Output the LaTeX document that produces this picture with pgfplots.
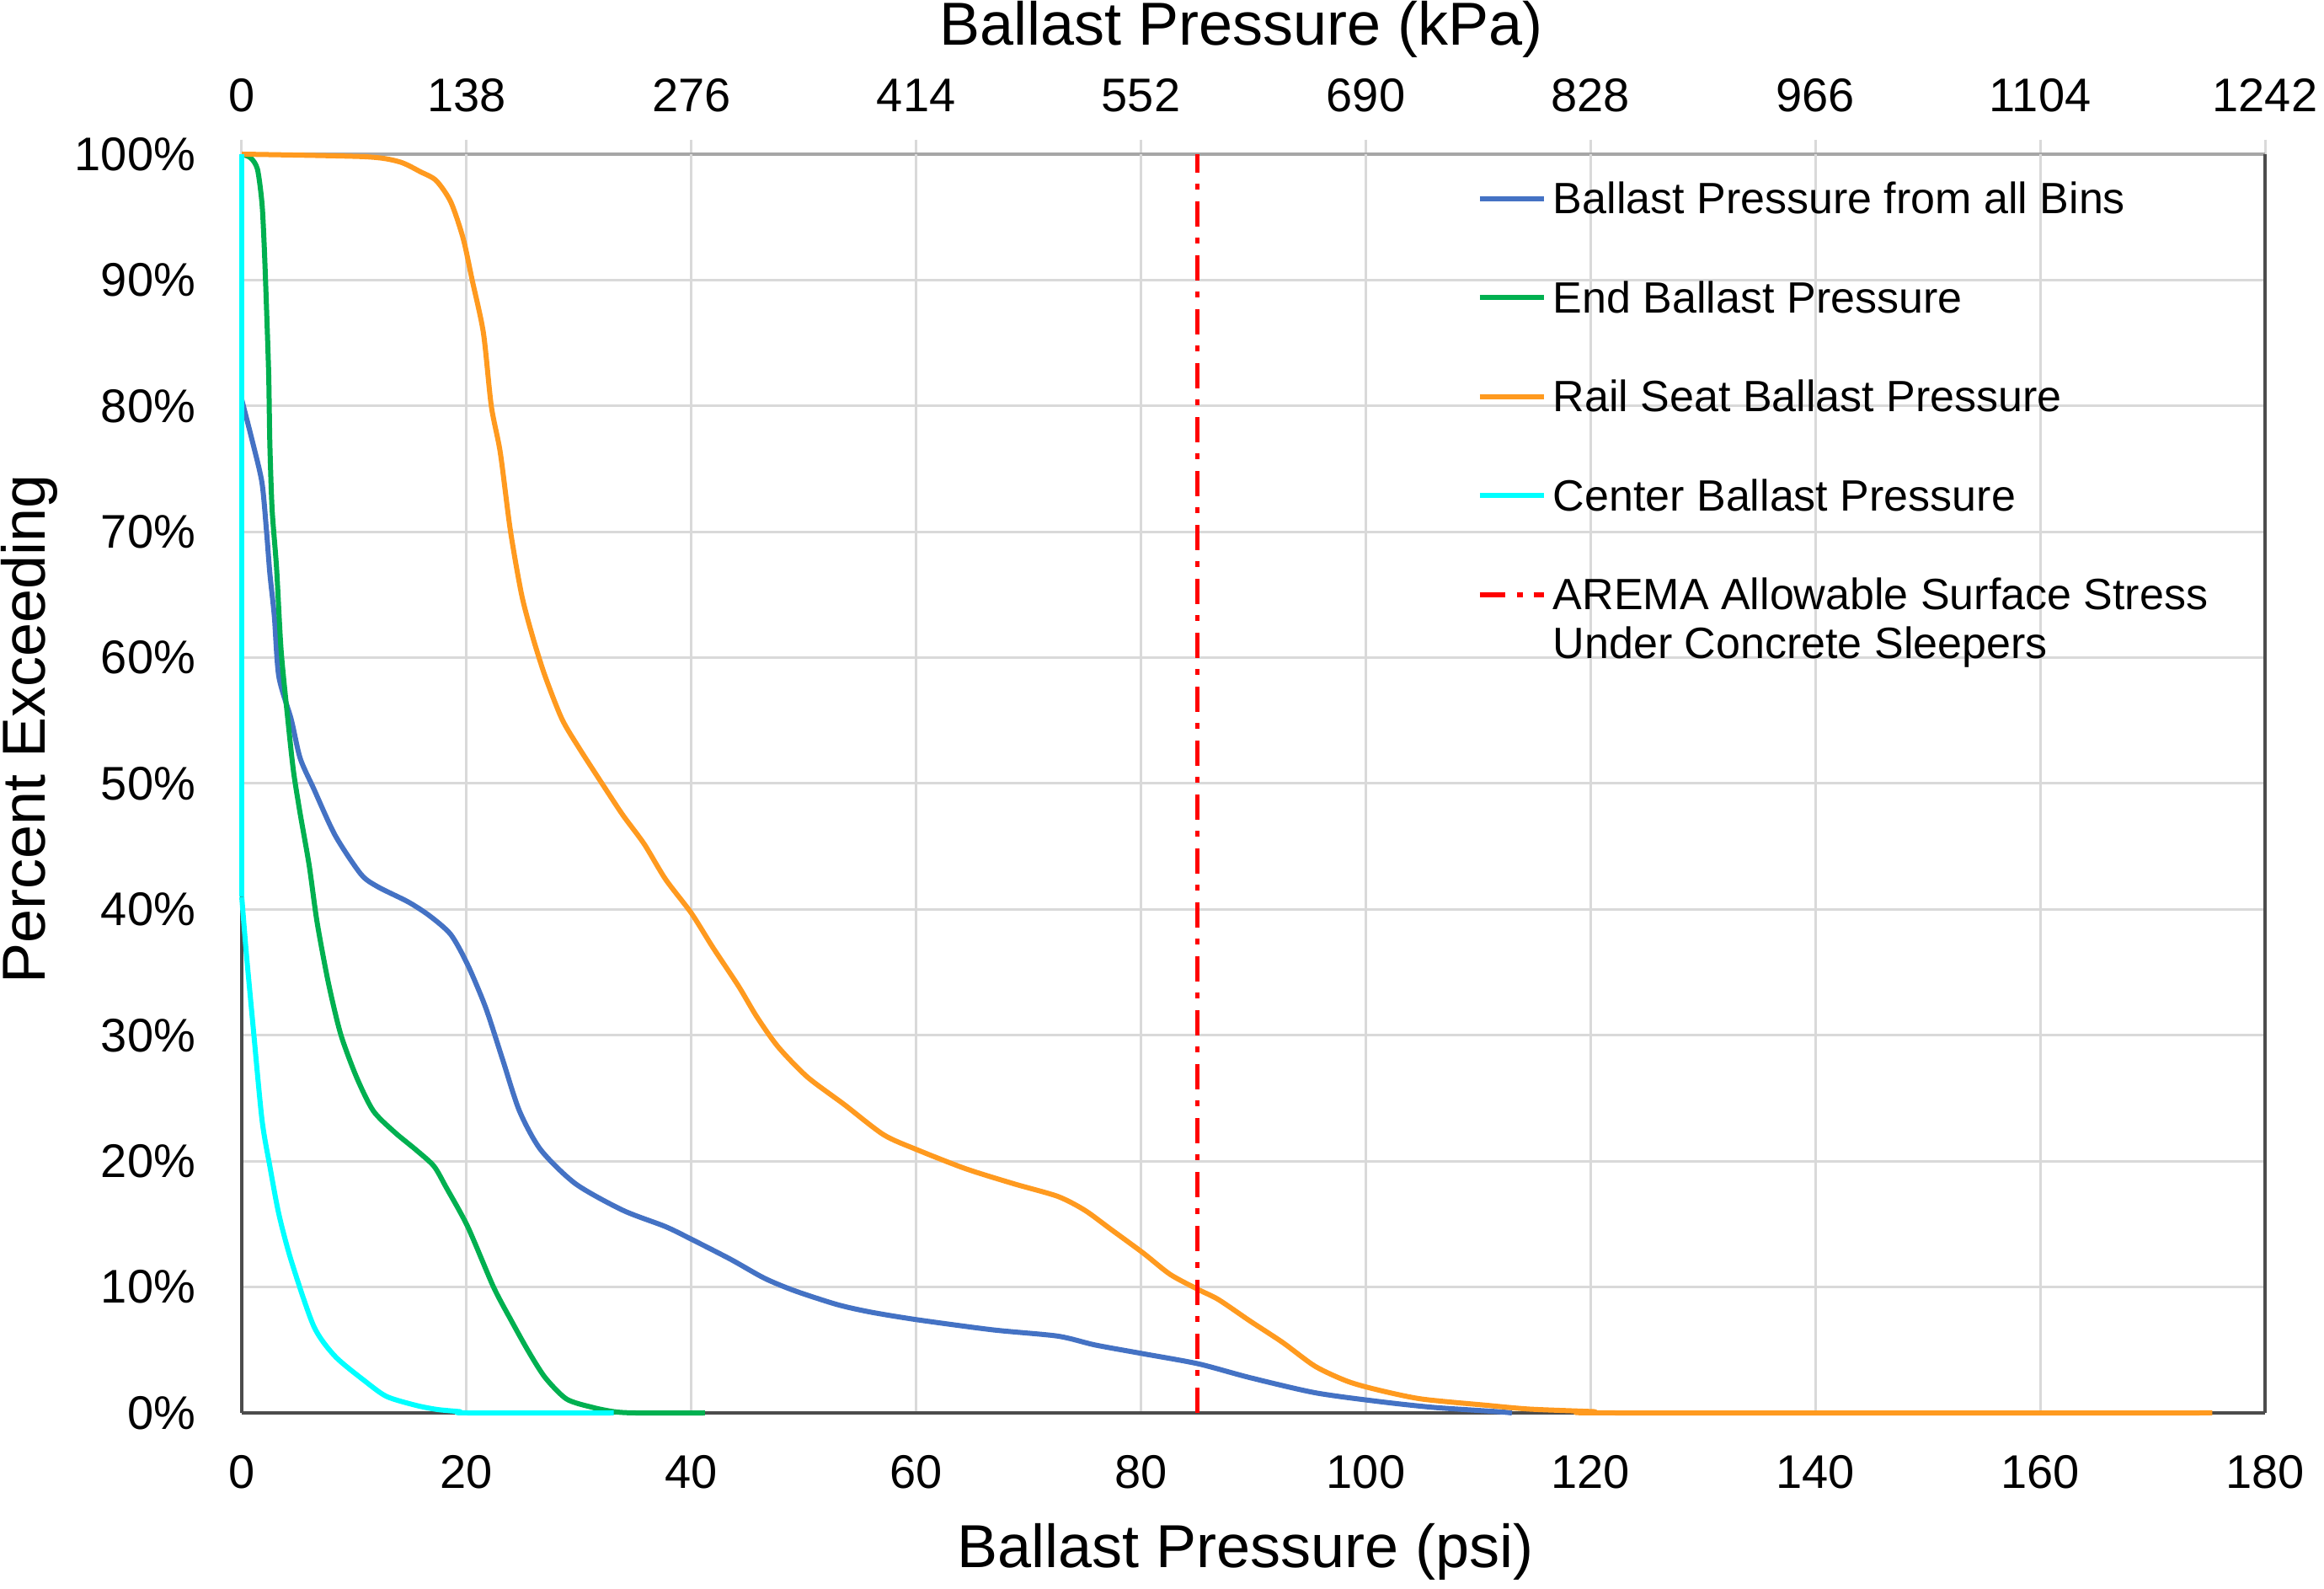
\documentclass[border=0pt]{standalone}
\usepackage{fontspec}
\setmainfont{Liberation Sans}
\usepackage{pgfplots}
\pgfplotsset{compat=1.18}
\definecolor{cblue}{HTML}{4472C4}
\definecolor{cgreen}{HTML}{00B050}
\definecolor{corange}{HTML}{FF9A1F}
\definecolor{ccyan}{HTML}{00FFFF}
\definecolor{cred}{HTML}{FF0000}
\newcommand\ticksfont{\fontsize{11.2}{13}\selectfont}
\newcommand\labfont{\fontsize{14.4}{17}\selectfont}
\newcommand\legfont{\fontsize{10.4}{11.6}\selectfont}
\begin{document}
\begin{tikzpicture}
\path[use as bounding box] (-57.4pt,-41.8pt) rectangle (494.4pt,335.4pt);
% top kPa axis
\begin{axis}[
 at={(0,0)}, anchor=south west,
 width=480.4pt, height=298.8pt, scale only axis,
 xmin=0, xmax=1242, ymin=0, ymax=1,
 axis x line*=top, axis y line=none,
 x axis line style={-, draw=black!35, line width=0.75pt},
 xtick={0,138,276,414,552,690,828,966,1104,1242},
 xticklabels={0,138,276,414,552,690,828,966,1104,1242},
 ytick=\empty,
 tick align=outside, major tick length=3.4pt,
 xtick style={draw=black!15, line width=0.6pt},
 xticklabel style={font=\ticksfont, anchor=south, inner sep=0pt, yshift=6.4pt},
 xlabel={Ballast Pressure (kPa)},
 xlabel style={font=\labfont, at={(axis description cs:0.494,1.0991)}, anchor=center},
]
\addplot[draw=none] coordinates {(0,0.5)};
\end{axis}
% main axis
\begin{axis}[
 at={(0,0)}, anchor=south west,
 width=480.4pt, height=298.8pt, scale only axis,
 xmin=0, xmax=180, ymin=0, ymax=100, clip=false,
 axis x line*=bottom, axis y line*=box,
 axis line style={-, draw=black!70, line width=0.75pt},
 xtick={0,20,40,60,80,100,120,140,160,180},
 xticklabels={0,20,40,60,80,100,120,140,160,180},
 ytick={0,10,20,30,40,50,60,70,80,90},
 yticklabels={0\%,10\%,20\%,30\%,40\%,50\%,60\%,70\%,80\%,90\%},
 extra y ticks={100}, extra y tick labels={100\%},
 extra y tick style={grid=none},
 grid=major, grid style={draw=black!15, line width=0.6pt},
 major tick length=0pt,
 xticklabel style={font=\ticksfont, anchor=north, inner sep=0pt, yshift=-9.8pt},
 yticklabel style={font=\ticksfont, anchor=east, inner sep=0pt, xshift=-10.8pt},
 xlabel={Ballast Pressure (psi)},
 xlabel style={font=\labfont, at={(axis description cs:0.496,-0.1104)}, anchor=center},
 ylabel={Percent Exceeding},
 ylabel style={font=\labfont, at={(axis description cs:-0.1049,0.543)}, anchor=center},
 no markers,
 every axis plot/.append style={line width=1.2pt, line join=round},
 legend style={draw=none, fill=none, inner sep=0pt, outer sep=0pt,
   at={(axis description cs:0.6107,0.9776)}, anchor=north west,
   font=\legfont, row sep=13.5pt, column sep=1.6pt,
   nodes={inner sep=0pt, text height=7.5pt, text depth=2.5pt},
   cells={anchor=base west}},
 legend image code/.code={\draw[#1] (0pt,3.6pt) -- (15.2pt,3.6pt);},
]
\addplot[cblue, smooth, tension=0.45] coordinates {
(0,80.5) (1.0,77) (1.8,73.9) (2.2,70.1) (2.5,66.7) (2.9,63.3) (3.3,58.5)
(4.4,55.1) (5.2,52) (6.4,49.6) (8.3,45.9) (10.6,42.8) (12.1,41.8) (14.8,40.6)
(16.7,39.5) (18.6,38) (20.1,35.6) (21.7,32.2) (23.2,28.1) (24.7,24) (26.6,20.9)
(29.7,18.2) (33.9,16.1) (37.7,14.8) (40,13.8) (43.5,12.2) (46.5,10.7) (49.2,9.7)
(53,8.6) (56,8.0) (60.1,7.4) (66.8,6.6) (72.6,6.1) (75.9,5.4) (80.2,4.7)
(85.1,3.9) (89.7,2.8) (95.5,1.6) (101.2,0.9) (106,0.44) (111.7,0.1) (113,0)
};
\addlegendentry{Ballast Pressure from all Bins}
\addplot[cblue, forget plot] coordinates {(0,100) (0,80.5)};
\addplot[cgreen, smooth, tension=0.45] coordinates {
(0,100) (0.8,99.7) (1.4,98.8) (1.8,96.1) (2.0,92.7) (2.2,87.9) (2.4,82.4) (2.5,77)
(2.7,71.8) (3.1,67.1) (3.5,60.6) (4.1,55.1) (4.6,51) (5.2,47.6) (6.0,43.5)
(6.7,39) (7.7,34.2) (8.8,30.1) (10.2,26.7) (11.7,24) (13.6,22.3) (15.5,20.9)
(17.1,19.6) (18.2,17.9) (20.1,14.8) (22.4,10) (24,7.3) (25.5,4.9) (27,2.8)
(28.9,1.1) (31.2,0.44) (33.1,0.1) (35,0) (41.2,0)
};
\addlegendentry{End Ballast Pressure}
\addplot[corange, smooth, tension=0.45] coordinates {
(0,100) (10.9,99.8) (14,99.4) (15.9,98.6) (17.3,97.9) (18.6,96.2) (19.7,93.3)
(20.5,90) (21.5,85.8) (22.2,80) (23,76.3) (23.9,70.1) (24.9,65) (25.9,61.6)
(27,58.5) (28.5,55.1) (30.1,52.7) (32.2,49.8) (33.9,47.5) (35.8,45.2) (37.7,42.4)
(40,39.7) (41.9,37) (44.2,33.9) (45.8,31.5) (47.7,29.1) (50.3,26.7) (53.6,24.5)
(57.1,22.1) (60.1,20.9) (64.4,19.4) (68.7,18.2) (72.6,17.2) (75,16.1) (77.3,14.6)
(80.2,12.7) (82.6,11) (85.1,9.8) (86.9,9) (89.7,7.3) (92.6,5.6) (95.5,3.7)
(98.4,2.5) (101.2,1.8) (105,1.1) (110.8,0.6) (114.6,0.3) (120.3,0.1) (122,0)
(175.3,0)
};
\addlegendentry{Rail Seat Ballast Pressure}
\addplot[ccyan, forget plot] coordinates {(0,100) (0,41)};
\addplot[ccyan, smooth, tension=0.45] coordinates {
(0,41) (0.4,36.6) (1.0,30.8) (1.8,23.3) (2.5,19.6) (3.3,15.8) (4.4,12.1)
(6.4,6.9) (8.3,4.5) (11,2.5) (12.9,1.3) (15.5,0.6) (17.4,0.27) (19.4,0.1)
(20,0) (33.1,0)
};
\addlegendentry{Center Ballast Pressure}
\addplot[cred, line width=1.1pt, dash pattern=on 6pt off 2.8pt on 1.4pt off 2.6pt] coordinates {(85,0) (85,100)};
\addlegendentry{\begin{tabular}[t]{@{}l@{}}AREMA Allowable Surface Stress\\Under Concrete Sleepers\end{tabular}}
\end{axis}
\end{tikzpicture}
\end{document}
